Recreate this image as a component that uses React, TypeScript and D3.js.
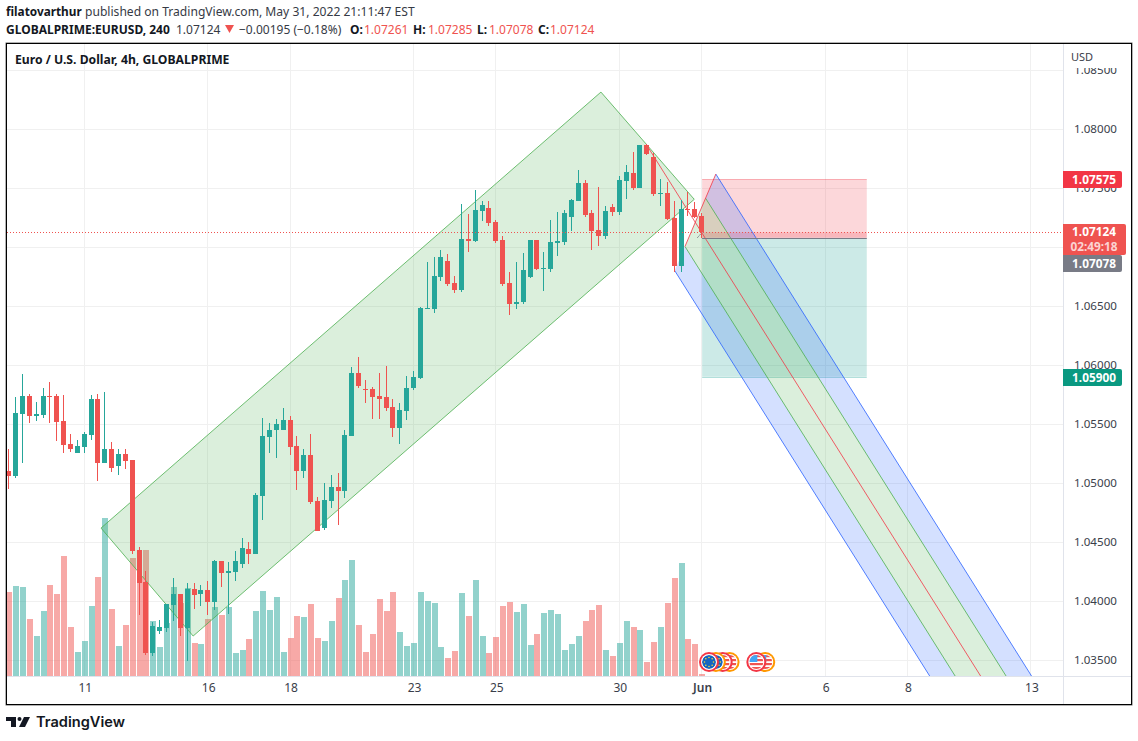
import React, { useEffect, useRef } from 'react';
import { select, scaleLinear, axisRight, axisBottom, format, line } from 'd3';

const WIDTH = 1138;
const HEIGHT = 741;
const FONT = '"Noto Sans", sans-serif';

const opens = [
  1.05101, 1.05059, 1.05584, 1.05737, 1.05567, 1.05576, 1.05737, 1.05737, 1.05525, 1.0533,
  1.05254, 1.05305, 1.05406, 1.05712, 1.05169, 1.05288, 1.05144, 1.05245, 1.05195, 1.04432,
  1.04161, 1.03559, 1.03745, 1.03771, 1.03966, 1.04059, 1.03771, 1.04101, 1.04059, 1.04093,
  1.03991, 1.04339, 1.04237, 1.04245, 1.04313, 1.0444, 1.04398, 1.04889, 1.05389, 1.05449,
  1.05449, 1.05534, 1.05313, 1.05101, 1.05237, 1.04847, 1.04618, 1.04847, 1.04966, 1.04932,
  1.05398, 1.05932, 1.05796, 1.05796, 1.05737, 1.05728, 1.05644, 1.05466, 1.0561, 1.05805,
  1.0589, 1.06474, 1.06474, 1.06745, 1.06881, 1.06695, 1.06635, 1.07067, 1.0705, 1.07305,
  1.0733, 1.07212, 1.07059, 1.06695, 1.06517, 1.06534, 1.06745, 1.07059, 1.06813, 1.06813,
  1.07034, 1.07042, 1.07254, 1.0739, 1.07542, 1.07288, 1.07144, 1.07093, 1.07339, 1.07296,
  1.07559, 1.07627, 1.075, 1.07864, 1.07762, 1.07449, 1.07457, 1.07245, 1.06839, 1.07322,
  1.07322, 1.07261
];
const highs = [
  1.05288, 1.05728, 1.05923, 1.05754, 1.05686, 1.05805, 1.05856, 1.05754, 1.05745, 1.05415,
  1.05364, 1.05432, 1.05745, 1.05754, 1.05771, 1.05347, 1.05288, 1.05288, 1.05195, 1.04457,
  1.04254, 1.03822, 1.03839, 1.03974, 1.04195, 1.04059, 1.04152, 1.04152, 1.04135, 1.04169,
  1.04347, 1.04339, 1.0433, 1.04423, 1.04533, 1.045, 1.04915, 1.0555, 1.05508, 1.05542,
  1.05635, 1.05567, 1.05398, 1.05288, 1.05415, 1.04881, 1.05, 1.05067, 1.05084, 1.05449,
  1.05983, 1.06067, 1.05873, 1.05813, 1.05932, 1.05991, 1.05712, 1.05678, 1.05906, 1.05949,
  1.06491, 1.06873, 1.06915, 1.06974, 1.0694, 1.06754, 1.07364, 1.07279, 1.07483, 1.0739,
  1.0739, 1.07228, 1.07093, 1.06788, 1.06873, 1.06949, 1.07059, 1.07059, 1.06957, 1.07228,
  1.07296, 1.07313, 1.07406, 1.07652, 1.07568, 1.07313, 1.07508, 1.07347, 1.07364, 1.07601,
  1.07695, 1.07805, 1.07864, 1.07873, 1.07796, 1.07576, 1.07551, 1.0739, 1.07398, 1.07466,
  1.07381, 1.07285
];
const lows = [
  1.04949, 1.05042, 1.05169, 1.05508, 1.05525, 1.0555, 1.05508, 1.05356, 1.05254, 1.05262,
  1.05254, 1.05254, 1.05364, 1.05017, 1.05169, 1.05093, 1.05067, 1.05118, 1.04398, 1.03881,
  1.03542, 1.03533, 1.0372, 1.03737, 1.0383, 1.03703, 1.03491, 1.03932, 1.03957, 1.03881,
  1.03923, 1.04118, 1.03889, 1.04169, 1.04279, 1.04313, 1.04398, 1.04686, 1.05254, 1.05211,
  1.05449, 1.05237, 1.0494, 1.05042, 1.04822, 1.04593, 1.04601, 1.04788, 1.04644, 1.04872,
  1.05398, 1.05805, 1.05678, 1.05542, 1.05542, 1.0561, 1.05389, 1.0533, 1.05534, 1.05788,
  1.05881, 1.06474, 1.0644, 1.06712, 1.06669, 1.0661, 1.06618, 1.06957, 1.07042, 1.0722,
  1.07178, 1.07034, 1.06669, 1.06423, 1.06474, 1.06517, 1.06737, 1.06805, 1.06627, 1.06788,
  1.06923, 1.07017, 1.07135, 1.0739, 1.07254, 1.06974, 1.07008, 1.07067, 1.07262, 1.07271,
  1.07406, 1.07483, 1.075, 1.07779, 1.07432, 1.07347, 1.07228, 1.06788, 1.06788, 1.07262,
  1.07245, 1.07078
];
const closes = [
  1.05059, 1.05593, 1.05737, 1.05567, 1.05584, 1.05737, 1.05728, 1.05517, 1.05322, 1.05288,
  1.05313, 1.05415, 1.05712, 1.05169, 1.05288, 1.05127, 1.05245, 1.05186, 1.04423, 1.04152,
  1.03559, 1.03788, 1.03779, 1.03974, 1.04059, 1.03771, 1.04101, 1.0405, 1.04093, 1.03991,
  1.04339, 1.04237, 1.04254, 1.04339, 1.04449, 1.04398, 1.04898, 1.05398, 1.05449, 1.055,
  1.05534, 1.05305, 1.05101, 1.05237, 1.04839, 1.04593, 1.04855, 1.04966, 1.04932, 1.05406,
  1.05932, 1.05822, 1.05788, 1.05728, 1.05712, 1.05635, 1.05466, 1.05618, 1.05805, 1.05898,
  1.06483, 1.06483, 1.06754, 1.06915, 1.06686, 1.06635, 1.07067, 1.0705, 1.07313, 1.07356,
  1.07203, 1.0705, 1.06686, 1.06517, 1.06534, 1.06805, 1.07059, 1.06813, 1.06822, 1.07042,
  1.0705, 1.07288, 1.07398, 1.07542, 1.07271, 1.07135, 1.07093, 1.07305, 1.07296, 1.07568,
  1.07635, 1.075, 1.07864, 1.07788, 1.07449, 1.07457, 1.07237, 1.06839, 1.07322, 1.07313,
  1.07254, 1.07124
];
const volumes = [
  8400, 9000, 8900, 5700, 4000, 6500, 9100, 8200, 12000, 4900,
  2400, 3500, 7000, 9900, 15800, 6700, 3000, 5100, 11800, 9900,
  12600, 5500, 2900, 5300, 8900, 7300, 8800, 3300, 3200, 5700,
  6900, 6100, 6900, 2300, 2600, 3700, 6500, 8500, 6600, 7900,
  2400, 3800, 6000, 5900, 7200, 3800, 3500, 5500, 7800, 9600,
  11600, 5100, 2400, 4200, 7700, 6500, 8400, 4400, 3000, 3300,
  8400, 7500, 7300, 2900, 1800, 2500, 8300, 6000, 9600, 4000,
  2300, 3900, 7000, 7400, 6400, 7200, 3100, 4200, 6300, 6600,
  6200, 2600, 3200, 4000, 5500, 6600, 7100, 2600, 2000, 3300,
  5500, 4900, 4600, 1400, 3400, 4900, 7300, 9800, 11300, 3700,
  3200, 200
];

const priceTicks = [1.035, 1.04, 1.045, 1.05, 1.055, 1.06, 1.065, 1.07, 1.075, 1.08, 1.085];
const timeTickBars = [11, 29, 41, 59, 71, 89, 101, 119, 131, 149];
const timeTickLabels = ['11', '16', '18', '23', '25', '30', 'Jun', '6', '8', '13'];

// drawings, as [bar index, price]
const channelPoints = [[13.37, 1.04618], [86.25, 1.08313], [99.85, 1.07404], [26.8, 1.03703]];
const forkOrigin = [93, 1.07856];
const forkUpper = [103, 1.07618];
const forkLower = [97, 1.068];
const positionBars = [101, 125];
const stopPrice = 1.07575;
const entryPrice = 1.07078;
const targetPrice = 1.059;
const lastPrice = 1.07124;

const eventBars = [
  [105, 'US', '#ff9800'],
  [104, 'US', '#f23645'],
  [103, 'EU', '#ff9800'],
  [102, 'EU', '#f23645'],
  [110.2, 'US', '#ff9800'],
  [108.9, 'US', '#f23645']
];

const GREEN = '#26a69a';
const RED = '#ef5350';

const App = () => {
  const svgRef = useRef<SVGSVGElement>(null);

  useEffect(() => {
    const svg = select(svgRef.current);
    const xScale = scaleLinear().domain([0, 149]).range([9.3, 1031.4]);
    const yScale = scaleLinear().domain([1.035, 1.08]).range([660, 129]);
    const volScale = scaleLinear().domain([0, 15800]).range([676, 518]);
    const px = (p: number[]) => [xScale(p[0]), yScale(p[1])];
    const path = line();

    /* grid */
    const grid = svg.select('.grid');
    grid
      .selectAll('.h')
      .data(priceTicks)
      .join('line')
      .attr('class', 'h')
      .attr('x1', 7)
      .attr('x2', 1063)
      .attr('y1', d => Math.round(yScale(d)) + 0.5)
      .attr('y2', d => Math.round(yScale(d)) + 0.5)
      .attr('stroke', '#f0f0f0');
    grid
      .selectAll('.v')
      .data(timeTickBars)
      .join('line')
      .attr('class', 'v')
      .attr('y1', 44)
      .attr('y2', 676)
      .attr('x1', d => Math.round(xScale(d)) - 0.5)
      .attr('x2', d => Math.round(xScale(d)) - 0.5)
      .attr('stroke', '#f0f0f0');

    /* volume */
    svg
      .select('.volume')
      .selectAll('rect')
      .data(volumes)
      .join('rect')
      .attr('x', (d, i) => Math.round(xScale(i) - 3))
      .attr('width', 6)
      .attr('y', d => Math.round(volScale(d)))
      .attr('height', d => 676 - Math.round(volScale(d)))
      .attr('fill', (d, i) => (closes[i] >= opens[i] ? GREEN : RED))
      .attr('fill-opacity', 0.5);

    /* channel */
    const drawings = svg.select('.drawings');
    drawings
      .selectAll('.channel')
      .data([channelPoints])
      .join('path')
      .attr('class', 'channel')
      .attr('d', d => path(d.map(px)) + 'Z')
      .attr('fill', 'rgba(76,175,80,0.2)')
      .attr('stroke', '#4caf50')
      .attr('stroke-opacity', 0.8);

    /* position tool */
    const [posX0, posX1] = positionBars.map(xScale);
    const zones = [
      { from: stopPrice, to: entryPrice, fill: 'rgba(242,54,69,0.2)', edge: 'rgba(242,54,69,0.3)' },
      { from: entryPrice, to: targetPrice, fill: 'rgba(0,150,136,0.2)', edge: 'rgba(0,150,136,0.3)' }
    ];
    drawings
      .selectAll('.zone')
      .data(zones)
      .join('rect')
      .attr('class', 'zone')
      .attr('x', posX0)
      .attr('width', posX1 - posX0)
      .attr('y', d => yScale(d.from))
      .attr('height', d => yScale(d.to) - yScale(d.from))
      .attr('fill', d => d.fill);
    drawings
      .selectAll('.zoneEdge')
      .data(zones)
      .join('line')
      .attr('class', 'zoneEdge')
      .attr('x1', posX0)
      .attr('x2', posX1)
      .attr('y1', (d, i) => Math.round(yScale(i ? d.to : d.from)) + 0.5)
      .attr('y2', (d, i) => Math.round(yScale(i ? d.to : d.from)) + 0.5)
      .attr('stroke', d => d.edge);
    drawings
      .selectAll('.openLoss')
      .data([[lastPrice, entryPrice]])
      .join('rect')
      .attr('class', 'openLoss')
      .attr('x', posX0)
      .attr('width', posX1 - posX0)
      .attr('y', d => yScale(d[0]))
      .attr('height', d => yScale(d[1]) - yScale(d[0]))
      .attr('fill', 'rgba(242,54,69,0.2)');

    /* pitchfork */
    const mid = [(forkUpper[0] + forkLower[0]) / 2, (forkUpper[1] + forkLower[1]) / 2];
    const dir = [mid[0] - forkOrigin[0], mid[1] - forkOrigin[1]];
    const onHandle = (t: number) => [
      mid[0] + (forkUpper[0] - mid[0]) * t,
      mid[1] + (forkUpper[1] - mid[1]) * t
    ];
    const reach = (p: number[]) => [p[0] + dir[0] * 10, p[1] + dir[1] * 10];
    const band = (a: number[], b: number[]) => [a, reach(a), reach(b), b];
    const fork = svg.select('.drawings');
    const forkBands = [
      { pts: band(onHandle(1), onHandle(0.5)), fill: 'rgba(41,98,255,0.2)' },
      { pts: band(onHandle(0.5), mid), fill: 'rgba(76,175,80,0.2)' },
      { pts: band(mid, onHandle(-0.5)), fill: 'rgba(76,175,80,0.2)' },
      { pts: band(onHandle(-0.5), onHandle(-1)), fill: 'rgba(41,98,255,0.2)' }
    ];
    fork
      .selectAll('.forkBand')
      .data(forkBands)
      .join('path')
      .attr('class', 'forkBand')
      .attr('d', d => path(d.pts.map(px)) + 'Z')
      .attr('fill', d => d.fill);
    const forkLines = [
      { a: onHandle(1), b: reach(onHandle(1)), c: '#2962ff' },
      { a: onHandle(0.5), b: reach(onHandle(0.5)), c: '#4caf50' },
      { a: forkOrigin, b: reach(mid), c: '#f23645' },
      { a: onHandle(-0.5), b: reach(onHandle(-0.5)), c: '#4caf50' },
      { a: onHandle(-1), b: reach(onHandle(-1)), c: '#2962ff' },
      { a: onHandle(-0.5), b: onHandle(1), c: '#f23645' }
    ];
    fork
      .selectAll('.forkLine')
      .data(forkLines)
      .join('path')
      .attr('class', 'forkLine')
      .attr('d', d => path([px(d.a), px(d.b)]))
      .attr('fill', 'none')
      .attr('stroke', d => d.c)
      .attr('stroke-opacity', 0.8);

    /* entry line of the position tool, and its small dashed link */
    drawings
      .selectAll('.entry')
      .data([entryPrice])
      .join('line')
      .attr('class', 'entry')
      .attr('x1', posX0)
      .attr('x2', posX1)
      .attr('y1', d => Math.round(yScale(d)) + 0.5)
      .attr('y2', d => Math.round(yScale(d)) + 0.5)
      .attr('stroke', '#787b86');
    drawings
      .selectAll('.link')
      .data([[[100.3, 1.07078], [101, 1.07124]]])
      .join('path')
      .attr('class', 'link')
      .attr('d', d => path(d.map(px)))
      .attr('stroke', '#787b86')
      .attr('stroke-dasharray', '2 1');

    /* candles */
    const candles = svg.select('.candles');
    candles
      .selectAll('.wick')
      .data(opens)
      .join('rect')
      .attr('class', 'wick')
      .attr('x', (d, i) => Math.round(xScale(i)) - 1)
      .attr('width', 1)
      .attr('y', (d, i) => Math.round(yScale(highs[i])))
      .attr('height', (d, i) => Math.max(1, Math.round(yScale(lows[i])) - Math.round(yScale(highs[i]))))
      .attr('fill', (d, i) => (closes[i] >= d ? GREEN : RED));
    candles
      .selectAll('.body')
      .data(opens)
      .join('rect')
      .attr('class', 'body')
      .attr('x', (d, i) => Math.round(xScale(i)) - 3)
      .attr('width', 5)
      .attr('y', (d, i) => Math.round(yScale(Math.max(d, closes[i]))))
      .attr('height', (d, i) =>
        Math.max(1, Math.round(yScale(Math.min(d, closes[i]))) - Math.round(yScale(Math.max(d, closes[i]))))
      )
      .attr('fill', (d, i) => (closes[i] >= d ? GREEN : RED));

    /* last price line */
    svg
      .select('.priceLine')
      .attr('x1', 7)
      .attr('x2', 1063)
      .attr('y1', Math.round(yScale(lastPrice)) + 0.5)
      .attr('y2', Math.round(yScale(lastPrice)) + 0.5)
      .attr('stroke', RED)
      .attr('stroke-dasharray', '1 2');

    /* events */
    const defs = svg.select('defs');
    const events = svg
      .select('.events')
      .selectAll('g')
      .data(eventBars)
      .join('g')
      .attr('transform', d => `translate(${xScale(d[0] as number)},662)`);
    events.append('circle').attr('r', 10).attr('fill', d => d[2] as string);
    events.append('circle').attr('r', 8).attr('fill', '#fff');
    defs
      .selectAll('clipPath.flag')
      .data([0])
      .join('clipPath')
      .attr('class', 'flag')
      .attr('id', 'flagClip')
      .append('circle')
      .attr('r', 7);
    const flags = events.append('g').attr('clip-path', 'url(#flagClip)');
    flags.each(function (d) {
      const g = select(this);
      if (d[1] === 'EU') {
        g.append('circle').attr('r', 7).attr('fill', '#1565c0');
        [0, 1, 2, 3, 4, 5, 6, 7].forEach(k => {
          g.append('circle')
            .attr('cx', 4.5 * Math.cos((k * Math.PI) / 4))
            .attr('cy', 4.5 * Math.sin((k * Math.PI) / 4))
            .attr('r', 0.8)
            .attr('fill', '#fdd835');
        });
      } else {
        g.append('rect').attr('x', -7).attr('y', -7).attr('width', 14).attr('height', 14).attr('fill', '#fff');
        [-3, 1, 5].forEach(y => {
          g.append('rect').attr('x', -7).attr('y', y).attr('width', 14).attr('height', 2.2).attr('fill', '#ef5350');
        });
        g.append('rect').attr('x', -7).attr('y', -7).attr('width', 14).attr('height', 2.2).attr('fill', '#ef5350');
        g.append('rect').attr('x', -7).attr('y', -7).attr('width', 8).attr('height', 7).attr('fill', '#42a5f5');
      }
    });

    /* axes */
    const yAxis = axisRight(yScale)
      .tickValues(priceTicks)
      .tickFormat(format('.5f'))
      .tickSize(0)
      .tickPadding(11);
    svg
      .select('.y-axis')
      .attr('transform', 'translate(1063,0)')
      .call(yAxis)
      .call(g => g.select('.domain').remove())
      .selectAll('text')
      .attr('fill', '#3a3e4a')
      .attr('font-size', 11.6)
      .attr('font-family', FONT);

    const xAxis = axisBottom(xScale)
      .tickValues(timeTickBars)
      .tickFormat((d, i) => timeTickLabels[i])
      .tickSize(0)
      .tickPadding(7);
    svg
      .select('.x-axis')
      .attr('transform', 'translate(0,676)')
      .call(xAxis)
      .call(g => g.select('.domain').remove())
      .selectAll('text')
      .attr('fill', '#3a3e4a')
      .attr('font-size', 12)
      .attr('font-family', FONT)
      .attr('font-weight', (d, i) => (timeTickLabels[i] === 'Jun' ? 600 : 400));
  }, []);

  const t = { fontFamily: FONT, fontSize: 12 };
  const bold = { ...t, fontWeight: 700 };
  const labels = [
    { y: 171, h: 17, w: 59, fill: '#f23645', text: '1.07575' },
    { y: 255, h: 17, w: 59, fill: '#787b86', text: '1.07078' },
    { y: 369, h: 17, w: 59, fill: '#0a9981', text: '1.05900' }
  ];

  return (
    <svg
      ref={svgRef}
      width={WIDTH}
      height={HEIGHT}
      viewBox={`0 0 ${WIDTH} ${HEIGHT}`}
      style={{ position: 'absolute', left: 0, top: 0, background: '#fff' }}
    >
      <defs>
        <clipPath id="pane">
          <rect x="7" y="44" width="1056" height="632" />
        </clipPath>
      </defs>

      <text x="6" y="16" {...bold} fontSize={11.8} fill="#131722">filatovarthur</text>
      <text x="85" y="16" {...t} fontSize={12.1} fill="#363a45">published on TradingView.com, May 31, 2022 21:11:47 EST</text>
      <text x="6" y="34" {...bold} fill="#131722">GLOBALPRIME:EURUSD, 240</text>
      <text x="176" y="34" {...t} fill="#363a45">1.07124</text>
      <polygon points="225,25 234,25 229.5,33" fill={RED} />
      <text x="239" y="34" {...t} fill="#363a45">−0.00195 (−0.18%)</text>
      <text x="350" y="34" {...bold} fill="#131722">O:</text>
      <text x="364" y="34" {...t} fill={RED}>1.07261</text>
      <text x="413" y="34" {...bold} fill="#131722">H:</text>
      <text x="428" y="34" {...t} fill={RED}>1.07285</text>
      <text x="477" y="34" {...bold} fill="#131722">L:</text>
      <text x="489" y="34" {...t} fill={RED}>1.07078</text>
      <text x="538" y="34" {...bold} fill="#131722">C:</text>
      <text x="550" y="34" {...t} fill={RED}>1.07124</text>

      <g className="grid" />
      <g clipPath="url(#pane)">
        <g className="volume" />
        <g className="drawings" />
        <g className="candles" />
        <line className="priceLine" />
      </g>
      <g className="events" />

      <text x="15" y="64" {...bold} fontSize={12.2} fill="#131722">Euro / U.S. Dollar, 4h, GLOBALPRIME</text>

      <line x1="1063.5" x2="1063.5" y1="44" y2="704" stroke="#e0e3eb" />
      <line x1="7" x2="1131" y1="676.5" y2="676.5" stroke="#e0e3eb" />
      <g className="y-axis" />
      <g className="x-axis" />
      <rect x="1064" y="44" width="66" height="24" fill="#fff" />
      <text x="1071" y="61" {...t} fontSize={11} fill="#3a3e4a">USD</text>

      {labels.map(l => (
        <g key={l.text}>
          <path
            d={`M1063,${l.y}h${l.w - 2}q2,0 2,2v${l.h - 4}q0,2 -2,2h${2 - l.w}z`}
            fill={l.fill}
          />
          <text x="1094" y={l.y + 12.7} {...bold} fontSize={11.8} fill="#fff" textAnchor="middle">{l.text}</text>
        </g>
      ))}
      <path d="M1063,224h61q2,0 2,2v27q0,2 -2,2h-61z" fill={RED} />
      <text x="1094" y="236" {...bold} fontSize={11.8} fill="#fff" textAnchor="middle">1.07124</text>
      <text x="1094" y="251" {...bold} fontSize={11.8} fill="#fff" fillOpacity={0.75} textAnchor="middle">02:49:18</text>

      <rect x="6.5" y="43.5" width="1125" height="661" fill="none" stroke="#000" />
      <rect x="6" y="43" width="1126" height="662" fill="none" stroke="#000" strokeOpacity={0.6} />

      <g fill="#131722">
        <path d="M6,717h10v10h-5v-6h-5z" />
        <circle cx="19.5" cy="719" r="2" />
        <path d="M24,717h6l-5,10h-6z" />
      </g>
      <text x="36" y="727" fontFamily="Inter, sans-serif" fontWeight="600" fontSize={14.6} fill="#131722">TradingView</text>
    </svg>
  );
};

export default App;
